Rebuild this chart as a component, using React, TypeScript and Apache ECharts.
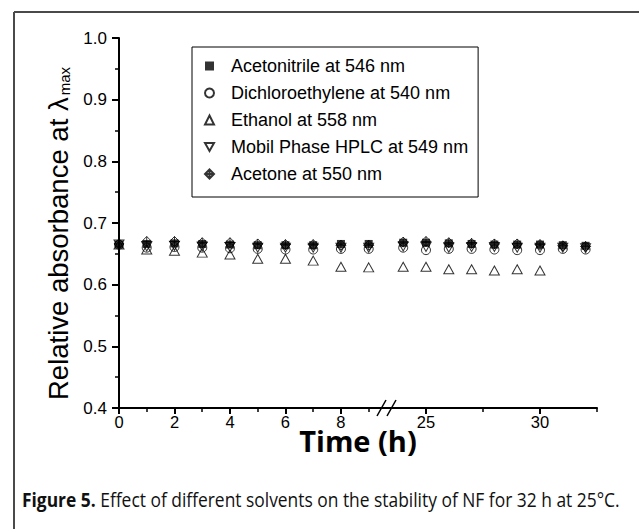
import React, { useEffect, useRef } from "react";
import * as echarts from "echarts";

const hoursEarly = [0, 1, 2, 3, 4, 5, 6, 7, 8, 9];
const hoursLate = [24, 25, 26, 27, 28, 29, 30, 31, 32];

const seriesNames = [
  "Acetonitrile at 546 nm",
  "Dichloroethylene at 540 nm",
  "Ethanol at 558 nm",
  "Mobil Phase HPLC at 549 nm",
  "Acetone at 550 nm",
];

const acetonitrileEarly = [0.665, 0.666, 0.667, 0.666, 0.665, 0.664, 0.664, 0.664, 0.666, 0.666];
const acetonitrileLate = [0.668, 0.668, 0.667, 0.666, 0.665, 0.665, 0.665, 0.664, 0.663];
const dichloroEarly = [0.665, 0.66, 0.661, 0.66, 0.659, 0.658, 0.657, 0.657, 0.658, 0.658];
const dichloroLate = [0.66, 0.656, 0.658, 0.658, 0.657, 0.656, 0.656, 0.658, 0.657];
const ethanolEarly = [0.665, 0.657, 0.655, 0.652, 0.649, 0.642, 0.642, 0.639, 0.629, 0.628];
const ethanolLate = [0.629, 0.629, 0.625, 0.625, 0.623, 0.625, 0.623];
const mobilEarly = [0.665, 0.662, 0.663, 0.662, 0.661, 0.66, 0.66, 0.66, 0.66, 0.66];
const mobilLate = [0.662, 0.661, 0.66, 0.661, 0.661, 0.66, 0.66, 0.66, 0.659];
const acetoneEarly = [0.666, 0.67, 0.67, 0.668, 0.668, 0.666, 0.665, 0.665, 0.664, 0.664];
const acetoneLate = [0.669, 0.67, 0.668, 0.667, 0.666, 0.666, 0.665, 0.663, 0.662];

const xMajorEarly = [0, 2, 4, 6, 8];
const xMinorEarly = [1, 3, 5, 7, 9];
const xMajorLate = [25, 30];
const xMinorLate = [27.5, 32.5];

const FONT = "Liberation Sans, Arial, sans-serif";

export default function App() {
  const ref = useRef<HTMLDivElement>(null);

  useEffect(() => {
    if (!ref.current) return;
    const chart = echarts.init(ref.current, undefined, { renderer: "svg" });

    const open = { color: "rgba(255,255,255,0)", borderColor: "#000", borderWidth: 1 };
    const solvents = [
      { name: seriesNames[0], early: acetonitrileEarly, late: acetonitrileLate, symbol: "rect", size: 8, style: { color: "#000" } },
      { name: seriesNames[1], early: dichloroEarly, late: dichloroLate, symbol: "circle", size: 9, style: open },
      { name: seriesNames[2], early: ethanolEarly, late: ethanolLate, symbol: "triangle", size: [10, 9], style: open },
      { name: seriesNames[3], early: mobilEarly, late: mobilLate, symbol: "path://M0,0L10,0L5,9Z", size: [10, 9], style: open },
      { name: seriesNames[4], early: acetoneEarly, late: acetoneLate, symbol: "path://M5,0L10,5L5,10L0,5Z M0,5L10,5 M5,0L5,10", size: 10, style: open },
    ];

    const series: any[] = [];
    solvents.forEach((s) => {
      series.push({
        type: "scatter", name: s.name, xAxisIndex: 0, yAxisIndex: 0,
        symbol: s.symbol, symbolSize: s.size, itemStyle: s.style,
        data: s.early.map((v, i) => [hoursEarly[i], v]),
      });
      series.push({
        type: "scatter", name: s.name, xAxisIndex: 1, yAxisIndex: 1,
        symbol: s.symbol, symbolSize: s.size, itemStyle: s.style,
        data: s.late.map((v, i) => [hoursLate[i], v]),
      });
    });

    const axisLine = { show: true, onZero: false, lineStyle: { color: "#000", width: 2 } };
    const labelStyle = { color: "#000", fontFamily: FONT, fontSize: 17 };

    const option: any = {
      animation: false,
      backgroundColor: "#fff",
      grid: [
        { left: 119, top: 38, width: 268, height: 370, outerBoundsMode: "none" },
        { left: 387, top: 38, width: 210, height: 370, outerBoundsMode: "none" },
      ],
      xAxis: [
        {
          type: "value", gridIndex: 0, min: 0, max: 9.66, position: "bottom",
          axisLine, splitLine: { show: false },
          axisTick: { show: true, customValues: xMajorEarly, length: 6, lineStyle: { color: "#000", width: 2 } },
          axisLabel: { ...labelStyle, fontSize: 16.5, customValues: xMajorEarly, margin: 6, lineHeight: 16 },
        },
        {
          type: "value", gridIndex: 1, min: 23.29, max: 32.5, position: "bottom",
          axisLine, splitLine: { show: false },
          axisTick: { show: true, customValues: xMajorLate, length: 6, lineStyle: { color: "#000", width: 2 } },
          axisLabel: { ...labelStyle, fontSize: 16.5, customValues: xMajorLate, margin: 6, lineHeight: 16 },
        },
        {
          type: "value", gridIndex: 0, min: 0, max: 9.66, position: "bottom",
          axisLine: { show: false }, splitLine: { show: false },
          axisTick: { show: true, customValues: xMinorEarly, length: 4, lineStyle: { color: "#000", width: 1.5 } },
          axisLabel: { show: false },
        },
        {
          type: "value", gridIndex: 1, min: 23.29, max: 32.5, position: "bottom",
          axisLine: { show: false }, splitLine: { show: false },
          axisTick: { show: true, customValues: xMinorLate, length: 4, lineStyle: { color: "#000", width: 1.5 } },
          axisLabel: { show: false },
        },
      ],
      yAxis: [
        {
          type: "value", gridIndex: 0, min: 0.4, max: 1.0, interval: 0.1,
          axisLine, splitLine: { show: false },
          axisTick: { show: true, length: 7, lineStyle: { color: "#000", width: 2 } },
          minorTick: { show: true, splitNumber: 2, length: 4, lineStyle: { color: "#000", width: 1.5 } },
          axisLabel: { ...labelStyle, margin: 12, formatter: (v: number) => v.toFixed(1) },
        },
        {
          type: "value", gridIndex: 1, min: 0.4, max: 1.0, interval: 0.1, show: false,
        },
      ],
      legend: {
        orient: "vertical", left: 192, top: 47,
        data: seriesNames, selectedMode: false,
        itemWidth: 9, itemHeight: 9, itemGap: 5,
        padding: [8, 10, 12, 12],
        borderColor: "#000", borderWidth: 1,
        textStyle: { fontFamily: FONT, fontSize: 18, lineHeight: 22, color: "#000", padding: [0, 0, 0, 12] },
      },
      graphic: [
        { type: "line", shape: { x1: 14, y1: 12, x2: 14, y2: 529 }, style: { stroke: "#4a4a4a", lineWidth: 2 } },
        { type: "line", shape: { x1: 14, y1: 12, x2: 639, y2: 12 }, style: { stroke: "#4a4a4a", lineWidth: 2 } },
        { type: "rect", shape: { x: 381, y: 404, width: 10, height: 8 }, style: { fill: "#fff" } },
        { type: "line", shape: { x1: 377, y1: 416, x2: 386, y2: 400 }, style: { stroke: "#000", lineWidth: 1.5 } },
        { type: "line", shape: { x1: 387, y1: 416, x2: 396, y2: 400 }, style: { stroke: "#000", lineWidth: 1.5 } },
        {
          type: "text", x: 58, y: 400, rotation: Math.PI / 2,
          style: {
            text: "Relative absorbance at λ{sub|max}",
            fontFamily: FONT, fontSize: 27.5, fill: "#000",
            textAlign: "left", textVerticalAlign: "middle",
            rich: { sub: { fontFamily: FONT, fontSize: 15, lineHeight: 15, padding: [17, 0, 0, 2], verticalAlign: "bottom" } },
          },
        },
        {
          type: "text", x: 358, y: 440,
          style: { text: "Time (h)", fontFamily: "Open Sans", fontWeight: "bold", fontSize: 29, lineHeight: 24, fill: "#000", textAlign: "center", textVerticalAlign: "middle" },
        },
        {
          type: "text", x: 22, y: 499, scaleX: 0.87,
          style: {
            text: "{b|Figure 5.} Effect of different solvents on the stability of NF for 32 h at 25°C.",
            fontFamily: "Open Sans", fontSize: 20, fill: "#111",
            textAlign: "left", textVerticalAlign: "middle",
            rich: { b: { fontFamily: "Open Sans", fontSize: 20, fontWeight: "bold", fill: "#111" } },
          },
        },
      ],
      series,
    };

    chart.setOption(option);
    return () => chart.dispose();
  }, []);

  return <div ref={ref} style={{ position: "fixed", left: 0, top: 0, width: 639, height: 529 }} />;
}
